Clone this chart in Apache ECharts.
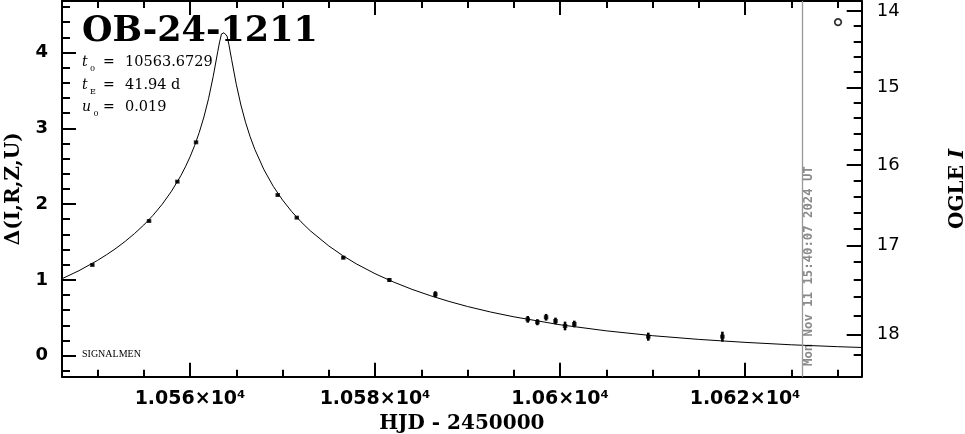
<!DOCTYPE html>
<html><head><meta charset="utf-8">
<script src="https://cdn.jsdelivr.net/npm/echarts@6/dist/echarts.min.js"></script>
<style>html,body{margin:0;padding:0;background:#fff}#c{width:965px;height:434px}</style>
</head><body><div id="c"></div>
<script>
// ---- data ----
const obsHJD   = [10549.44, 10555.57, 10558.63, 10560.65, 10569.48, 10571.54, 10576.57, 10581.55, 10586.52, 10596.51, 10597.55, 10598.49, 10599.51, 10600.54, 10601.54, 10609.54, 10617.55];
const obsDelta = [1.197, 1.777, 2.296, 2.815, 2.120, 1.821, 1.293, 0.999, 0.810, 0.480, 0.442, 0.507, 0.458, 0.392, 0.418, 0.251, 0.251];
const obsErr   = [0.015, 0.015, 0.015, 0.015, 0.015, 0.015, 0.02, 0.025, 0.04, 0.044, 0.04, 0.044, 0.044, 0.057, 0.044, 0.053, 0.066];
const openHJD   = [10630.05];
const openDelta = [4.40];
const modelHJD   = [10546, 10548, 10550, 10551, 10552, 10553, 10554, 10555, 10556, 10557, 10558, 10559, 10559.5, 10560, 10560.5, 10561, 10561.5, 10562, 10562.5, 10563, 10563.2, 10563.4, 10563.67, 10564, 10564.2, 10564.5, 10565, 10565.5, 10566, 10566.5, 10567, 10568, 10569, 10570, 10571, 10572, 10573, 10575, 10576.5, 10578, 10580, 10582, 10584, 10586, 10588, 10590, 10592.5, 10595, 10600, 10605, 10610, 10615, 10620, 10625, 10630, 10633];
const modelDelta = [1.006, 1.122, 1.257, 1.334, 1.417, 1.509, 1.611, 1.724, 1.852, 1.999, 2.170, 2.373, 2.491, 2.623, 2.773, 2.946, 3.148, 3.389, 3.680, 4.013, 4.141, 4.244, 4.26, 4.217, 4.105, 3.905, 3.581, 3.307, 3.080, 2.888, 2.723, 2.452, 2.234, 2.054, 1.900, 1.766, 1.648, 1.448, 1.321, 1.210, 1.082, 0.972, 0.875, 0.791, 0.716, 0.649, 0.576, 0.513, 0.408, 0.328, 0.264, 0.215, 0.176, 0.144, 0.119, 0.107];
const xMajorTicks = [10560, 10580, 10600, 10620];
const xMinorTicks = [10550, 10555, 10565, 10570, 10575, 10585, 10590, 10595, 10605, 10610, 10615, 10625, 10630];
const yMajorTicks = [0, 1, 2, 3, 4];
const yMinorTicks = [-0.2, 0.2, 0.4, 0.6, 0.8, 1.2, 1.4, 1.6, 1.8, 2.2, 2.4, 2.6, 2.8, 3.2, 3.4, 3.6, 3.8, 4.2, 4.4, 4.6];
const magMajorTicks = [14, 15, 16, 17, 18];
const magMinorTicks = [14.2, 14.4, 14.6, 14.8, 15.2, 15.4, 15.6, 15.8, 16.2, 16.4, 16.6, 16.8, 17.2, 17.4, 17.6, 17.8, 18.2];
const nowHJD = 10626.15;
const nowLabel = 'Mon Nov 11 15:40:07 2024 UT';
const eventName = 'OB-24-1211';
const paramLines = [
  {sym: 't', sub: '0', val: '10563.6729'},
  {sym: 't', sub: 'E', val: '41.94 d'},
  {sym: 'u', sub: '0', val: '0.019'}
];
const I_BASE = 18.213, F_S = 0.73;

const X_MIN = 10546.16, X_MAX = 10632.61, Y_MIN = -0.277, Y_MAX = 4.679;

function magToDelta(m) { return 2.5 * Math.log10((Math.pow(10, -0.4 * (m - I_BASE)) - (1 - F_S)) / F_S); }
function deltaToMag(d) { return I_BASE - 2.5 * Math.log10(F_S * Math.pow(10, 0.4 * d) + 1 - F_S); }

const chart = echarts.init(document.getElementById('c'), null, {renderer: 'canvas'});

const BLACK = '#000';
function xAx(pos, ticks, len, showLine, label, extra) {
  return Object.assign({
    type: 'value', position: pos, min: X_MIN, max: X_MAX,
    axisLine: {show: showLine, onZero: false, lineStyle: {color: BLACK, width: 2}},
    axisTick: {show: true, inside: true, length: len, customValues: ticks, lineStyle: {color: BLACK, width: 2}},
    axisLabel: label ? label : {show: false},
    splitLine: {show: false}, minorTick: {show: false}
  }, extra || {});
}
function yAx(pos, ticks, len, showLine, label, extra) {
  return Object.assign({
    type: 'value', position: pos, min: Y_MIN, max: Y_MAX,
    axisLine: {show: showLine, onZero: false, lineStyle: {color: BLACK, width: 2}},
    axisTick: {show: true, inside: true, length: len, customValues: ticks, lineStyle: {color: BLACK, width: 2}},
    axisLabel: label ? label : {show: false},
    splitLine: {show: false}, minorTick: {show: false}
  }, extra || {});
}

const option = {
  animation: false,
  backgroundColor: '#fff',
  grid: {left: 62, right: 103.3, top: 1, bottom: 57.3, containLabel: false, outerBoundsMode: 'none'},
  xAxis: [
    xAx('bottom', xMajorTicks, 14, true, {
      show: true, customValues: xMajorTicks, margin: 13, color: BLACK,
      fontFamily: 'DejaVu Sans', fontWeight: 'bold', fontSize: 19,
      formatter: v => String(parseFloat((v / 1e4).toFixed(4))) + '×10⁴'
    }, {
      name: 'HJD - 2450000', nameLocation: 'middle', nameGap: 37,
      nameTextStyle: {fontFamily: 'DejaVu Serif', fontWeight: 'bold', fontSize: 20, color: BLACK}
    }),
    xAx('bottom', xMinorTicks, 7, false, null),
    xAx('top', xMajorTicks, 14, true, null),
    xAx('top', xMinorTicks, 7, false, null)
  ],
  yAxis: [
    yAx('left', yMajorTicks, 14, true, {
      show: true, customValues: yMajorTicks, margin: 14, color: BLACK,
      fontFamily: 'DejaVu Sans', fontWeight: 'bold', fontSize: 18,
      formatter: v => String(Math.round(v))
    }, {
      name: 'Δ(I,R,Z,U)', nameLocation: 'middle', nameGap: 38, nameRotate: 90,
      nameTextStyle: {fontFamily: 'DejaVu Serif', fontWeight: 'bold', fontSize: 20, color: BLACK}
    }),
    yAx('left', yMinorTicks, 8, false, null),
    yAx('right', magMajorTicks.map(magToDelta), 15, true, {
      show: true, customValues: magMajorTicks.map(magToDelta), margin: 15, color: BLACK,
      fontFamily: 'DejaVu Sans', fontSize: 18,
      formatter: v => String(Math.round(deltaToMag(v)))
    }, {
      name: '{a|OGLE }{b|I}', nameLocation: 'middle', nameGap: 86, nameRotate: 90,
      nameTextStyle: {
        color: BLACK,
        rich: {
          a: {fontFamily: 'DejaVu Serif', fontWeight: 'bold', fontSize: 20, color: BLACK},
          b: {fontFamily: 'DejaVu Serif', fontWeight: 'bold', fontStyle: 'italic', fontSize: 20, color: BLACK}
        }
      }
    }),
    yAx('right', magMinorTicks.map(magToDelta), 8, false, null)
  ],
  series: [
    {
      type: 'line', name: 'model', xAxisIndex: 0, yAxisIndex: 0,
      data: modelHJD.map((t, i) => [t, modelDelta[i]]),
      showSymbol: false, symbol: 'none', smooth: false,
      lineStyle: {color: BLACK, width: 1}, z: 2,
      markLine: {
        silent: true, symbol: ['none', 'none'], label: {show: false},
        lineStyle: {color: '#999', width: 1.3, type: 'solid'},
        emphasis: {disabled: true},
        data: [{xAxis: nowHJD}]
      }
    },
    {
      type: 'custom', name: 'errors', xAxisIndex: 0, yAxisIndex: 0, z: 3,
      data: obsHJD.map((t, i) => [t, obsDelta[i], obsErr[i]]),
      encode: {x: 0, y: 1},
      renderItem: function (params, api) {
        const x = api.value(0), y = api.value(1), e = api.value(2);
        const top = api.coord([x, y + e]);
        const bot = api.coord([x, y - e]);
        return {type: 'rect', shape: {x: top[0] - 1.3, y: top[1], width: 2.6, height: bot[1] - top[1]}, style: {fill: BLACK}};
      }
    },
    {
      type: 'scatter', name: 'OGLE', xAxisIndex: 0, yAxisIndex: 0, z: 4,
      data: obsHJD.map((t, i) => [t, obsDelta[i]]),
      symbol: 'rect', symbolSize: [4.5, 4], itemStyle: {color: BLACK}
    },
    {
      type: 'scatter', name: 'other', xAxisIndex: 0, yAxisIndex: 0, z: 4,
      data: openHJD.map((t, i) => [t, openDelta[i]]),
      symbol: 'circle', symbolSize: 6.5, itemStyle: {color: '#fff', borderColor: BLACK, borderWidth: 1.8}
    }
  ]
};
chart.setOption(option);

// ---- annotation texts ----
const px = chart.convertToPixel({xAxisIndex: 0}, nowHJD);
const lineY = [62, 85, 107];
const g = [
  {type: 'text', x: 82, y: 31.5, style: {text: eventName, font: 'bold 35px "DejaVu Serif"', fill: BLACK, textAlign: 'left', textVerticalAlign: 'middle'}},
  {type: 'text', x: 82, y: 354.5, style: {text: 'SIGNALMEN', font: '10px "Liberation Serif"', fill: BLACK, textAlign: 'left', textVerticalAlign: 'middle'}},
  {type: 'text', x: px + 7, y: 366, rotation: Math.PI / 2, style: {text: nowLabel, font: 'bold 12.3px "DejaVu Sans Mono"', fill: '#8a8a8a', textAlign: 'left', textVerticalAlign: 'middle'}}
];
paramLines.forEach((p, i) => {
  const y = lineY[i];
  g.push({type: 'text', x: 82, y: y, style: {text: p.sym, font: 'italic 14px "DejaVu Serif"', fill: BLACK, textAlign: 'left', textVerticalAlign: 'middle'}});
  g.push({type: 'text', x: (p.sym === 'u' ? 93.5 : 90), y: y + 6.5, style: {text: p.sub, font: '8px "DejaVu Serif"', fill: BLACK, textAlign: 'left', textVerticalAlign: 'middle'}});
  g.push({type: 'text', x: 103, y: y, style: {text: '=', font: '14px "DejaVu Serif"', fill: BLACK, textAlign: 'left', textVerticalAlign: 'middle'}});
  g.push({type: 'text', x: 125, y: y, style: {text: p.val, font: '14.5px "DejaVu Serif"', fill: BLACK, textAlign: 'left', textVerticalAlign: 'middle'}});
});
chart.setOption({graphic: {elements: g}});
</script>
</body></html>
